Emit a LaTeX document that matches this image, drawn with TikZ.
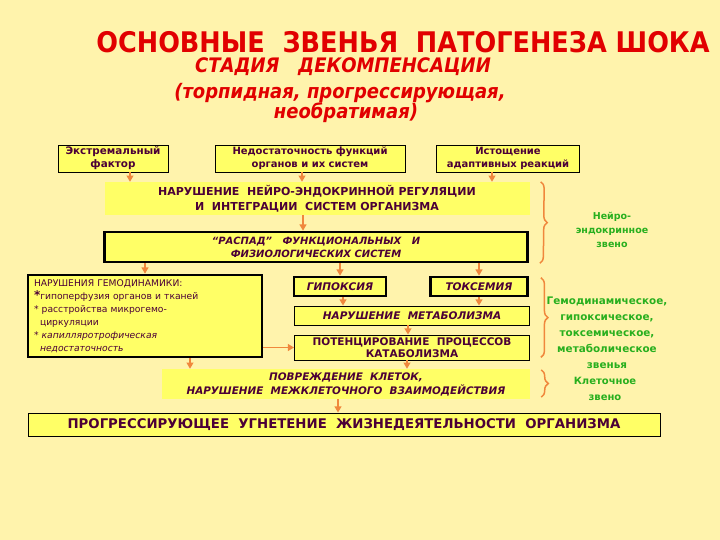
\documentclass[tikz,border=0pt]{standalone}
\usepackage{fontspec}
\setmainfont{DejaVu Sans}
\newfontfamily\headfont{DejaVu Sans Condensed}
\usepackage{tikz}
\usetikzlibrary{arrows.meta,positioning,calc,decorations.pathreplacing}
\definecolor{paper}{RGB}{255,243,172}
\definecolor{boxc}{RGB}{255,255,102}
\definecolor{ink}{RGB}{75,0,55}
\definecolor{arrc}{RGB}{240,135,60}
\definecolor{linkc}{RGB}{40,175,30}
\definecolor{headc}{RGB}{225,0,0}

\begin{document}
\begin{tikzpicture}[
  x=1pt, y=-1pt,
  bx/.style={fill=boxc, text=ink, align=center, inner sep=0pt, font=\bfseries\fontsize{10}{13}\selectfont},
  fr/.style={bx, draw=black, line width=0.8pt},
  frb/.style={bx, draw=black, line width=2.6pt},
  flat/.style={bx},
  head/.style={text=headc, font=\headfont\bfseries\itshape\fontsize{20}{22}\selectfont},
  lnk/.style={text=linkc, align=center, font=\bfseries\fontsize{9.5}{14}\selectfont},
  arr/.style={-{Triangle[length=2.2mm,width=2.4mm]}, arrc, line width=1.8pt},
  brc/.style={decorate, decoration={brace, amplitude=7pt}, arrc, line width=1.5pt}]
  \fill[paper] (0,0) rectangle (720,540);
  % headings
  \node[text=headc, font=\headfont\bfseries\fontsize{28.4}{32}\selectfont] (title) at (403,42) {ОСНОВНЫЕ\ \ ЗВЕНЬЯ\ \ ПАТОГЕНЕЗА ШОКА};
  \node[head] (stage) at (343,67) {СТАДИЯ\ \ \ ДЕКОМПЕНСАЦИИ};
  \node[head] (form) at (340,93) {(торпидная, прогрессирующая,};
  \node[head] (form2) at (346,113) {необратимая)};
  % causes
  \node[fr, minimum width=110, minimum height=27, font=\bfseries\fontsize{10.4}{13}\selectfont] (ext) at (113,158.5) {Экстремальный\\фактор};
  \node[fr, minimum width=190, minimum height=27] (insuf) at (310,158.5) {Недостаточность функций\\органов и их систем};
  \node[fr, minimum width=143, minimum height=27] (exh) at (508,158.5) {Истощение\\адаптивных реакций};
  % neuro-endocrine link
  \node[flat, minimum width=425, minimum height=33, font=\bfseries\fontsize{11}{15}\selectfont] (neuro) at (317,198.5) {НАРУШЕНИЕ\ \ НЕЙРО-ЭНДОКРИННОЙ РЕГУЛЯЦИИ\\И\ \ ИНТЕГРАЦИИ\ \ СИСТЕМ ОРГАНИЗМА};
  \node[frb, minimum width=423, minimum height=30, font=\bfseries\itshape\fontsize{10}{13}\selectfont] (decay) at (316,247) {“РАСПАД”\ \ \ ФУНКЦИОНАЛЬНЫХ\ \ \ И\\ФИЗИОЛОГИЧЕСКИХ СИСТЕМ};
  % hemodynamic, hypoxic, toxemic, metabolic links
  \node[frb, minimum width=234, minimum height=82, text width=222, align=left, font=\fontsize{9.2}{13}\selectfont] (hemo) at (145,316) {НАРУШЕНИЯ ГЕМОДИНАМИКИ:\\
    {\bfseries\large*}гипоперфузия органов и тканей\\
    {}* расстройства микрогемо-\\
    \hspace*{6pt}циркуляции\\
    {}* \textit{капилляротрофическая}\\
    \hspace*{6pt}\textit{недостаточность}};
  \node[frb, minimum width=92, minimum height=19, font=\bfseries\itshape\fontsize{10.5}{13}\selectfont] (hypox) at (340,286.5) {ГИПОКСИЯ};
  \node[frb, minimum width=97, minimum height=19, font=\bfseries\itshape\fontsize{10.5}{13}\selectfont] (toxem) at (479,286.5) {ТОКСЕМИЯ};
  \node[fr, minimum width=235, minimum height=19, font=\bfseries\itshape\fontsize{10.5}{13}\selectfont] (metab) at (412,315.5) {НАРУШЕНИЕ\ \ МЕТАБОЛИЗМА};
  \node[fr, minimum width=235, minimum height=25, font=\bfseries\fontsize{10.5}{12.5}\selectfont] (catab) at (412,347.5) {ПОТЕНЦИРОВАНИЕ\ \ ПРОЦЕССОВ\\КАТАБОЛИЗМА};
  % cellular link
  \node[flat, minimum width=368, minimum height=30, font=\bfseries\itshape\fontsize{10.4}{14}\selectfont] (cell) at (346,384) {ПОВРЕЖДЕНИЕ\ \ КЛЕТОК,\\НАРУШЕНИЕ\ \ МЕЖКЛЕТОЧНОГО\ \ ВЗАИМОДЕЙСТВИЯ};
  \node[fr, minimum width=632, minimum height=23, font=\bfseries\fontsize{13.3}{15}\selectfont] (prog) at (344,424.5) {ПРОГРЕССИРУЮЩЕЕ\ \ УГНЕТЕНИЕ\ \ ЖИЗНЕДЕЯТЕЛЬНОСТИ\ \ ОРГАНИЗМА};
  % arrows
  \draw[arr] ([xshift=17pt]ext.south) -- ([xshift=17pt]ext.south |- neuro.north);
  \draw[arr] ([xshift=-8pt]insuf.south) -- ([xshift=-8pt]insuf.south |- neuro.north);
  \draw[arr] ([xshift=-16pt]exh.south) -- ([xshift=-16pt]exh.south |- neuro.north);
  \draw[arr] ([xshift=-14pt]neuro.south) -- ([xshift=-14pt]neuro.south |- decay.north);
  \draw[arr] (decay.south -| hemo.north) -- (hemo.north);
  \draw[arr] (decay.south -| hypox.north) -- (hypox.north);
  \draw[arr] (decay.south -| toxem.north) -- (toxem.north);
  \draw[arr] ([xshift=3pt]hypox.south) -- ([xshift=3pt]hypox.south |- metab.north);
  \draw[arr] (toxem.south) -- (toxem.south |- metab.north);
  \draw[arr] ([xshift=-4pt]metab.south) -- ([xshift=-4pt]metab.south |- catab.north);
  \draw[arr] (catab.west -| hemo.east) -- (catab.west);
  \draw[arr] ([xshift=45pt]hemo.south) -- ([xshift=45pt]hemo.south |- cell.north);
  \draw[arr] ([xshift=-5pt]catab.south) -- ([xshift=-5pt]catab.south |- cell.north);
  \draw[arr] ([xshift=-8pt]cell.south) -- ([xshift=-8pt]cell.south |- prog.north);
  % braces and link names
  \draw[brc] ([xshift=11pt]neuro.north east) -- ([xshift=11pt]decay.south east);
  \draw[brc] ([xshift=11pt,yshift=-2pt]hypox.north -| catab.east) -- ([xshift=11pt,yshift=3pt]catab.south east);
  \draw[brc] ([xshift=11pt,yshift=-1pt]cell.north east) -- ([xshift=11pt,yshift=2pt]cell.south east);
  \node[lnk] (neurolink) at (612,230) {Нейро-\\эндокринное\\звено};
  \node[lnk, font=\bfseries\fontsize{10.4}{16}\selectfont] (hemolink) at (607,333) {Гемодинамическое,\\гипоксическое,\\токсемическое,\\метаболическое\\звенья};
  \node[lnk, font=\bfseries\fontsize{10}{16}\selectfont] (celllink) at (605,389) {Клеточное\\звено};
\end{tikzpicture}
\end{document}
